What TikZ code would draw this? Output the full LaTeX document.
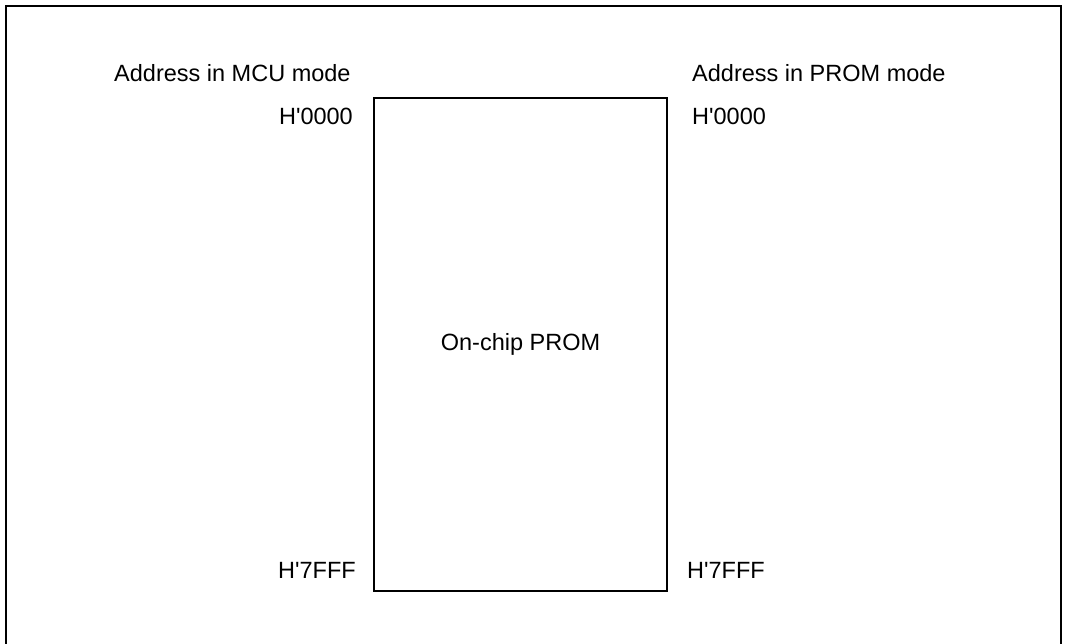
\documentclass[tikz,border=0pt]{standalone}
\usepackage{fontspec}
\setmainfont{Liberation Sans}[Ligatures = TeXOff]
\usetikzlibrary{positioning}
\begin{document}
\begin{tikzpicture}[x = 1pt, y = 1pt, lbl/.style = {inner sep = 0pt, font = \fontsize{23.5}{26}\selectfont}]
	\useasboundingbox (0, 0) rectangle (1065, 643);
	\draw[line width = 1.6pt] (6, -2)--(6, 637)--(1061, 637)--(1061, -2);
	\draw[line width = 1.4pt] (374, 52) rectangle (667, 545) node (prom) [pos = .5, lbl] {On-chip PROM};
	\node[lbl, anchor = base west] (mcu) at (114, 561) {Address in MCU mode};
	\node[lbl, anchor = base west] (pmode) at (692, 561) {Address in PROM mode};
	\node[lbl, anchor = base east] (mtop) at (353, 518) {H'0000};
	\node[lbl, anchor = base west] (ptop) at (692, 518) {H'0000};
	\node[lbl, anchor = base east] (mbot) at (356, 65) {H'7FFF};
	\node[lbl, anchor = base west] (pbot) at (687, 65) {H'7FFF};
\end{tikzpicture}
\end{document}
